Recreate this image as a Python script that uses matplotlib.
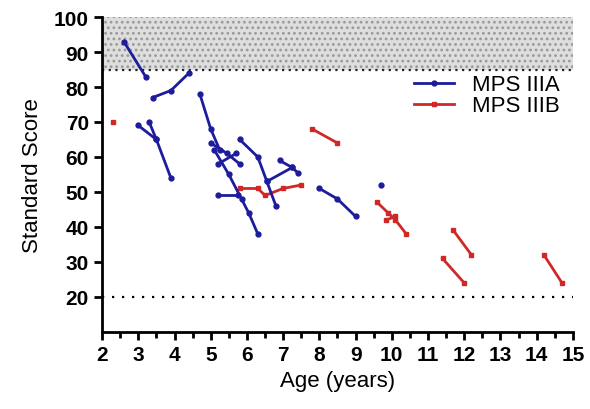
import matplotlib
matplotlib.use('Agg')
import matplotlib.pyplot as plt
from matplotlib.ticker import MultipleLocator

plt.rcParams['font.family'] = ['Liberation Sans', 'DejaVu Sans']
plt.rcParams['hatch.linewidth'] = 1.2

BLUE = '#1c1c9c'
RED = '#d02828'

# one list of (age, score) points per patient
mps_iiia = [
    [(2.6, 93), (3.2, 83)],
    [(3.4, 77), (3.9, 79), (4.4, 84)],
    [(3.0, 69), (3.5, 65)],
    [(3.3, 70), (3.5, 65), (3.9, 54)],
    [(4.7, 78), (5.0, 68), (5.25, 62)],
    [(5.0, 64), (5.45, 61), (5.8, 58)],
    [(5.2, 58), (5.7, 61)],
    [(5.1, 62), (5.5, 55), (5.85, 48), (6.05, 44), (6.3, 38)],
    [(5.2, 49), (5.75, 49)],
    [(5.8, 65), (6.3, 60), (6.55, 53), (6.8, 46)],
    [(6.55, 53), (7.25, 57)],
    [(6.9, 59), (7.25, 57), (7.4, 55.5)],
    [(8.0, 51), (8.5, 48), (9.0, 43)],
    [(9.7, 52)],
]

mps_iiib = [
    [(2.3, 70)],
    [(5.8, 51), (6.3, 51), (6.5, 49), (7.0, 51), (7.5, 52)],
    [(7.8, 68), (8.5, 64)],
    [(9.6, 47), (9.9, 44), (10.1, 42), (10.4, 38)],
    [(9.85, 42), (10.1, 43)],
    [(11.7, 39), (12.2, 32)],
    [(11.4, 31), (12.0, 24)],
    [(14.2, 32), (14.7, 24)],
]

normal_band = (85, 100)
floor_score = 20

fig = plt.figure(figsize=(5.9, 4.1), dpi=100)
ax = fig.add_axes([0.173, 0.188, 0.798, 0.768])

# normal range band and floor line
ax.axhspan(*normal_band, facecolor='#dedede', edgecolor='#9a9a9a',
           hatch='...', linewidth=0, zorder=0)
ax.axhline(normal_band[0], color='#222222', lw=1.6, ls=(0, (1, 2)), zorder=1)
ax.axhline(floor_score, color='black', lw=1.6, ls=(0, (1, 3.5)), zorder=1)

for i, pts in enumerate(mps_iiia):
    x, y = zip(*pts)
    ax.plot(x, y, '-o', color=BLUE, lw=2, ms=3.5,
            label='MPS IIIA' if i == 0 else None, zorder=3)
for i, pts in enumerate(mps_iiib):
    x, y = zip(*pts)
    ax.plot(x, y, '-s', color=RED, lw=2, ms=3.5,
            label='MPS IIIB' if i == 0 else None, zorder=2)

ax.set_xlim(2, 15)
ax.set_ylim(10, 100)
ax.xaxis.set_major_locator(MultipleLocator(1))
ax.xaxis.set_minor_locator(MultipleLocator(0.5))
ax.set_yticks(range(20, 101, 10))

for s in ('top', 'right'):
    ax.spines[s].set_visible(False)
for s in ('left', 'bottom'):
    ax.spines[s].set_linewidth(2)
ax.tick_params(which='major', length=6, width=2, labelsize=15)
ax.tick_params(which='minor', length=4, width=2)
for lab in ax.get_xticklabels() + ax.get_yticklabels():
    lab.set_fontweight('bold')

ax.set_xlabel('Age (years)', fontsize=16)
ax.set_ylabel('Standard Score', fontsize=16, labelpad=8)

ax.legend(loc='upper right', bbox_to_anchor=(1.0, 0.86), frameon=False,
          fontsize=16, handlelength=1.8, handletextpad=0.8,
          borderaxespad=0.2, labelspacing=0.0)

fig.savefig('out.png', dpi=100)
